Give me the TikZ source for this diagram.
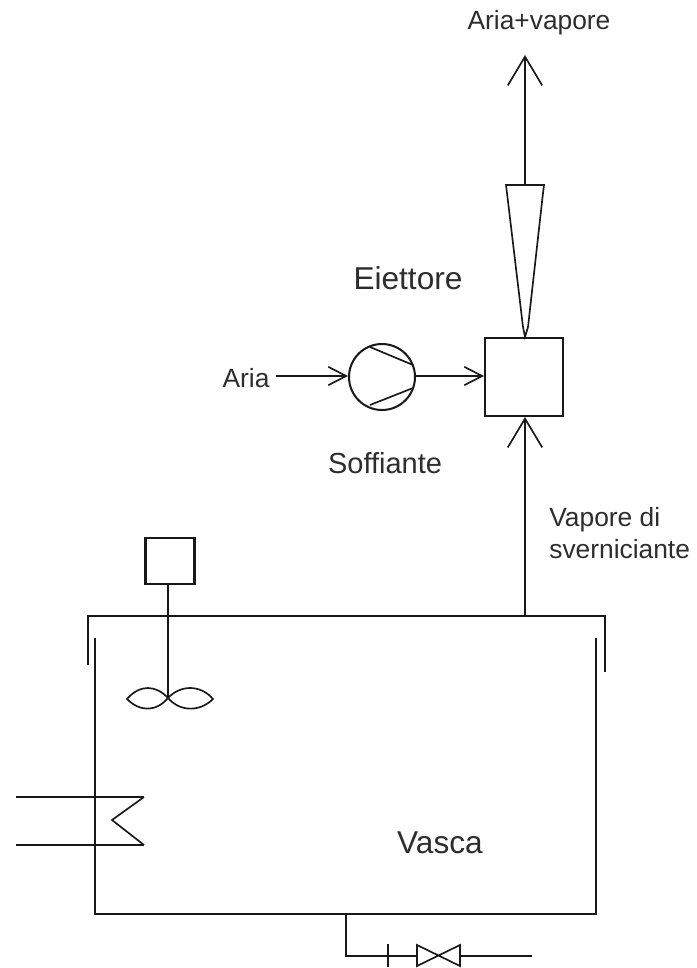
\documentclass[tikz,border=0pt]{standalone}
\usepackage{fontspec}
\setmainfont{Liberation Sans}
\usetikzlibrary{arrows.meta}
\definecolor{inkline}{RGB}{25,25,25}
\definecolor{inktext}{RGB}{45,45,45}
\begin{document}
\begin{tikzpicture}[x=0.02cm, y=-0.02cm,
  pipe/.style={draw=inkline, line width=1.15pt},
  thin pipe/.style={draw=inkline, line width=0.95pt},
  unit/.style={pipe, fill=white, inner sep=0pt},
  hflow/.style={pipe, -{Straight Barb[length=10.2pt, width=10.5pt, line width=0.95pt]}},
  vflow/.style={pipe, -{Straight Barb[length=16.4pt, width=19.6pt, line width=0.95pt]}},
  small/.style={font=\fontsize{15}{17}\selectfont, text=inktext, inner sep=0pt},
  big/.style={font=\fontsize{18}{21}\selectfont, text=inktext, inner sep=0pt}]
\useasboundingbox (0,0) rectangle (697,968);
\node[unit, minimum width=1.56cm, minimum height=1.56cm] (ejbox) at (524,377) {};
\node[unit, circle, minimum size=1.32cm] (pump) at (382,377) {};
\node[unit, minimum width=0.98cm, minimum height=0.92cm] (motor) at (170,561) {};
\node[small] (aria) at (246,378) {Aria};
\node[small] (out) at (539,23) {Aria+vapore};
\node[small, font=\fontsize{16.5}{18}\selectfont] (soff) at (385,463) {Soffiante};
\node[small, align=left, anchor=west] (vap) at (549,533) {Vapore di\\[1.5pt]sverniciante};
\node[big] (eje) at (408,278) {Eiettore};
\node[big] (vasca) at (440,843) {Vasca};
% ejector
\coordinate (conetop) at (525,185);
\coordinate (conebot) at (525,337);
\coordinate (outtip) at (525,55);
\draw[vflow] (conetop) -- (outtip);
\draw[thin pipe] (507,193) -- (506,185) -- (544,185) -- (543,193) -- (528,327) -- (conebot) -- (523,327) -- cycle;
% blower line
\coordinate (ariaend) at (276,376);
\draw[hflow] (ariaend) -- (pump.west |- ariaend);
\draw[hflow] (pump.east |- ariaend) -- (ejbox.west |- ariaend);
\draw[thin pipe] (370,347) -- (413,365);
\draw[thin pipe] (370,405) -- (413,388);
% tank
\coordinate (lidl) at (88,665);
\coordinate (lidr) at (605,672);
\coordinate (vapfoot) at (525,616);
\draw[pipe] (lidl) -- (88,616) -- (605,616) -- (lidr);
\draw[thin pipe] (95,638) -- (95,914) -- (596,914) -- (596,638);
\draw[vflow] (vapfoot) -- (vapfoot |- ejbox.south);
% stirrer
\coordinate (hub) at (168,698);
\draw[pipe] (motor.south -| hub) -- (hub);
\draw[thin pipe] (hub) .. controls (156,685) and (140,684) .. (127,699) .. controls (140,712) and (156,712) .. (hub);
\draw[thin pipe] (hub) .. controls (180,685) and (200,684) .. (213,699) .. controls (200,712) and (180,712) .. (hub);
% coil
\draw[pipe] (16,797) -- (144,797);
\draw[pipe] (16,845) -- (144,845);
\draw[thin pipe] (144,797) -- (112,820) -- (144,845);
% drain and valve
\coordinate (drain) at (346,914);
\coordinate (drainend) at (532,956);
\draw[pipe] (drain) -- (346,956) -- (417,956);
\draw[pipe] (460,956) -- (drainend);
\draw[pipe] (388,944) -- (388,967);
\draw[thin pipe] (417,945) -- (460,966) -- (460,945) -- (417,966) -- cycle;
\end{tikzpicture}
\end{document}
